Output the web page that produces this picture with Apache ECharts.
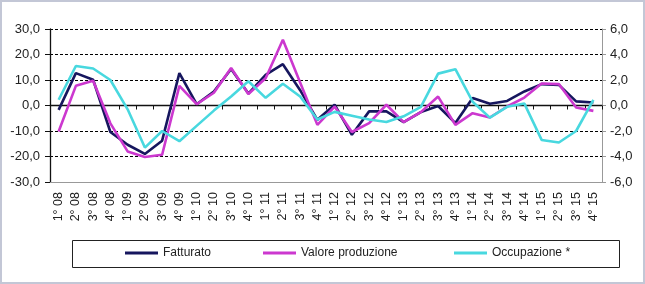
<!DOCTYPE html>
<html>
<head>
<meta charset="utf-8">
<script src="https://cdn.jsdelivr.net/npm/echarts@6/dist/echarts.min.js"></script>
<style>html,body{margin:0;padding:0;background:#fff}#c{width:645px;height:284px}</style>
</head>
<body>
<div id="c"></div>
<script>
var categories = ['1° 08','2° 08','3° 08','4° 08','1° 09','2° 09','3° 09','4° 09',
  '1° 10','2° 10','3° 10','4° 10','1° 11','2° 11','3° 11','4° 11',
  '1° 12','2° 12','3° 12','4° 12','1° 13','2° 13','3° 13','4° 13',
  '1° 14','2° 14','3° 14','4° 14','1° 15','2° 15','3° 15','4° 15'];
var fatturato = [-1.7, 12.7, 10.1, -10.4, -15.4, -19.0, -13.8, 12.7,
  0.5, 5.5, 14.3, 4.7, 12.0, 16.2, 6.0, -5.6,
  0.3, -11.5, -2.3, -2.3, -6.5, -2.6, -0.2, -6.9,
  2.9, 0.7, 1.8, 5.5, 8.4, 8.1, 1.6, 1.2];
var valoreProduzione = [-10.2, 7.7, 9.7, -7.0, -18.0, -20.2, -19.3, 7.7,
  0.5, 5.0, 14.7, 4.5, 10.7, 25.8, 9.0, -7.6,
  -0.4, -10.4, -6.9, 0.3, -6.5, -2.6, 3.5, -7.6,
  -3.0, -4.7, -0.4, 3.1, 8.6, 8.4, -0.8, -2.1];
var occupazione = [0.45, 3.1, 2.9, 2.0, -0.3, -3.3, -2.0, -2.8,
  -1.6, -0.4, 0.7, 1.9, 0.6, 1.7, 0.7, -1.1,
  -0.5, -0.8, -1.1, -1.3, -0.85, -0.1, 2.5, 2.85,
  0.3, -0.95, -0.1, 0.15, -2.7, -2.9, -2.0, 0.45];
var leftTicks = {min: -30, max: 30, interval: 10};
var rightTicks = {min: -6, max: 6, interval: 2};
var seriesNames = ['Fatturato', 'Valore produzione', 'Occupazione *'];
var colors = ['#16165e', '#cc38cf', '#48d8df'];

var fmt = function (v) { return v.toFixed(1).replace('.', ','); };
var font = 'Liberation Sans, Arial, sans-serif';
var chart = echarts.init(document.getElementById('c'), null, {renderer: 'canvas'});

function mkLegend(name, left) {
  return {
    left: left, top: 247, padding: 0,
    data: [name], icon: 'rect', itemWidth: 33, itemHeight: 3, itemGap: 5,
    textStyle: {fontFamily: font, fontSize: 12, color: '#222'}
  };
}

chart.setOption({
  animation: false,
  backgroundColor: '#fff',
  color: colors,
  grid: {left: 50, right: 43, top: 29, bottom: 102, containLabel: false},
  graphic: [
    {type: 'rect', shape: {x: 1, y: 1, width: 643, height: 282}, style: {fill: 'none', stroke: '#c3c7d6', lineWidth: 2}, silent: true},
    {type: 'rect', shape: {x: 72.5, y: 240.5, width: 547, height: 27}, style: {fill: 'none', stroke: '#222', lineWidth: 1}, silent: true}
  ],
  legend: [mkLegend(seriesNames[0], 125), mkLegend(seriesNames[1], 263), mkLegend(seriesNames[2], 454)],
  xAxis: [
    {
      type: 'category', data: categories, boundaryGap: true, position: 'bottom',
      axisLine: {onZero: false, lineStyle: {color: '#999', width: 1}},
      axisTick: {show: false},
      axisLabel: {rotate: 90, interval: 0, margin: 10, fontFamily: font, fontSize: 12.5, color: '#222'},
      splitLine: {show: false}
    },
    {
      type: 'category', data: categories, boundaryGap: true, position: 'bottom',
      axisLine: {onZero: true, onZeroAxisIndex: 0, lineStyle: {color: '#111', width: 1.3}},
      axisTick: {show: true, interval: 0, length: 4, lineStyle: {color: '#111'}},
      axisLabel: {show: false},
      splitLine: {show: false}
    }
  ],
  yAxis: [
    {
      type: 'value', position: 'left', min: leftTicks.min, max: leftTicks.max, interval: leftTicks.interval,
      axisLine: {show: true, lineStyle: {color: '#111', width: 1.3}},
      axisTick: {show: true, length: 5, lineStyle: {color: '#111'}},
      axisLabel: {margin: 10, formatter: fmt, fontFamily: font, fontSize: 13, color: '#222'},
      splitLine: {show: true, showMinLine: false, lineStyle: {color: '#000', type: [3, 2], width: 1}}
    },
    {
      type: 'value', position: 'right', min: rightTicks.min, max: rightTicks.max, interval: rightTicks.interval,
      axisLine: {show: true, lineStyle: {color: '#999', width: 1}},
      axisTick: {show: true, length: 4, lineStyle: {color: '#999'}},
      axisLabel: {margin: 8, formatter: fmt, fontFamily: font, fontSize: 13, color: '#222'},
      splitLine: {show: false}
    }
  ],
  series: [
    {name: seriesNames[0], type: 'line', data: fatturato, xAxisIndex: 0, yAxisIndex: 0, symbol: 'none',
      lineStyle: {width: 2.6, color: colors[0]}, itemStyle: {color: colors[0]}, z: 3},
    {name: seriesNames[1], type: 'line', data: valoreProduzione, xAxisIndex: 0, yAxisIndex: 0, symbol: 'none',
      lineStyle: {width: 2.6, color: colors[1]}, itemStyle: {color: colors[1]}, z: 4},
    {name: seriesNames[2], type: 'line', data: occupazione, xAxisIndex: 0, yAxisIndex: 1, symbol: 'none',
      lineStyle: {width: 2.6, color: colors[2]}, itemStyle: {color: colors[2]}, z: 5}
  ]
});
</script>
</body>
</html>
